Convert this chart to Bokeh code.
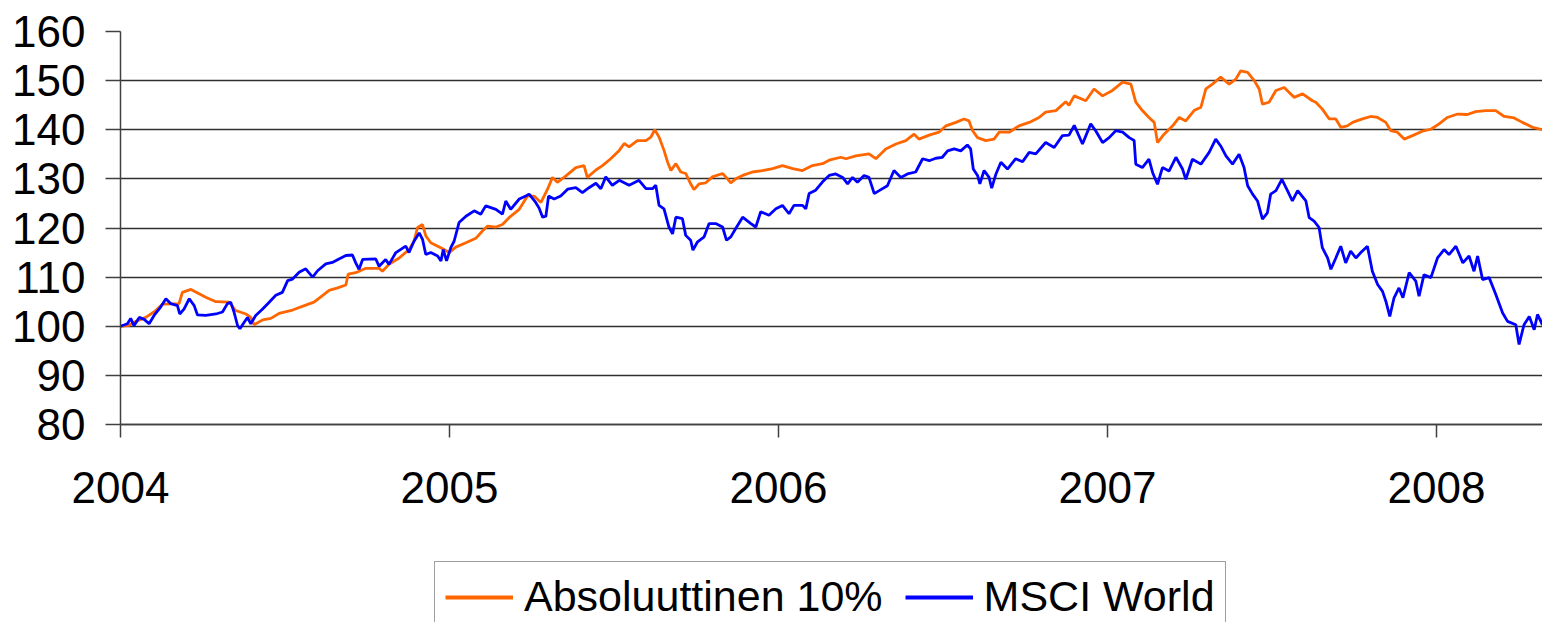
from bokeh.plotting import figure
from bokeh.models import Range1d, FixedTicker, Legend, LegendItem
from bokeh.embed import file_html
from bokeh.resources import INLINE

# ---------------- data ----------------
abs_label = "Absoluuttinen 10%"
msci_label = "MSCI World"

abs_years = [
    2004.000, 2004.026, 2004.047, 2004.077, 2004.107, 2004.128, 2004.178, 2004.188, 2004.214, 2004.239,
    2004.259, 2004.290, 2004.330, 2004.350, 2004.381, 2004.396, 2004.406, 2004.432, 2004.457, 2004.482,
    2004.523, 2004.563, 2004.588, 2004.609, 2004.634, 2004.660, 2004.685, 2004.692,
    2004.715, 2004.746, 2004.786, 2004.796, 2004.816, 2004.847, 2004.877, 2004.892, 2004.903, 2004.918,
    2004.928, 2004.943, 2004.964, 2004.984, 2004.999, 2005.019, 2005.050, 2005.080, 2005.100, 2005.116,
    2005.141, 2005.161, 2005.181, 2005.212, 2005.237, 2005.257, 2005.278, 2005.298, 2005.313, 2005.328,
    2005.354, 2005.384, 2005.409, 2005.419, 2005.445,
    2005.465, 2005.490, 2005.516, 2005.531, 2005.546, 2005.571, 2005.597, 2005.612, 2005.624, 2005.637,
    2005.652, 2005.663, 2005.673, 2005.688, 2005.703, 2005.718, 2005.733, 2005.743, 2005.759, 2005.779,
    2005.799, 2005.830, 2005.845, 2005.855, 2005.870, 2005.891, 2005.921, 2005.951, 2005.982, 2006.012,
    2006.043, 2006.073, 2006.103, 2006.134, 2006.154, 2006.189,
    2006.205, 2006.235, 2006.275, 2006.296, 2006.326, 2006.357, 2006.387, 2006.412, 2006.427, 2006.458,
    2006.488, 2006.509, 2006.539, 2006.564, 2006.579, 2006.590, 2006.605, 2006.630, 2006.655, 2006.671,
    2006.701, 2006.731, 2006.762, 2006.792, 2006.812, 2006.843, 2006.873, 2006.883, 2006.899,
    2006.934, 2006.959, 2006.985, 2007.015, 2007.046, 2007.071, 2007.086, 2007.106, 2007.126, 2007.142,
    2007.152, 2007.172, 2007.198, 2007.218, 2007.238, 2007.263, 2007.284, 2007.299, 2007.319, 2007.344,
    2007.370, 2007.390, 2007.405, 2007.426, 2007.446, 2007.461, 2007.471, 2007.491, 2007.512, 2007.537,
    2007.567, 2007.593, 2007.623,
    2007.633, 2007.653, 2007.674, 2007.694, 2007.709, 2007.729, 2007.745, 2007.775, 2007.800, 2007.821,
    2007.846, 2007.861, 2007.881, 2007.902, 2007.927, 2007.957, 2007.983, 2008.008, 2008.033, 2008.064,
    2008.094, 2008.119, 2008.150, 2008.180, 2008.206, 2008.236, 2008.261, 2008.292, 2008.317, 2008.342,
]
abs_values = [
    100.0, 100.2, 101.0, 101.8, 103.2, 104.5, 104.6, 106.9, 107.5, 106.6,
    105.9, 105.0, 104.9, 103.2, 102.5, 101.8, 100.3, 101.3, 101.6, 102.6,
    103.3, 104.3, 104.9, 106.0, 107.3, 107.8, 108.4, 110.6,
    110.9, 111.8, 111.8, 111.2, 112.6, 113.9, 115.6, 117.3, 120.1, 120.7,
    118.4, 117.0, 116.3, 115.6, 115.0, 116.1, 117.0, 117.9, 119.4, 120.4,
    120.2, 120.7, 122.1, 123.8, 126.5, 126.5, 125.2, 127.9, 130.3, 129.3,
    130.6, 132.3, 132.7, 130.3, 131.8,
    132.7, 134.1, 135.8, 137.2, 136.5, 137.8, 137.8, 138.5, 140.0, 138.5,
    135.8, 133.4, 131.7, 133.1, 131.4, 131.1, 129.0, 127.8, 129.0, 129.2,
    130.4, 131.1, 130.0, 129.2, 130.0, 130.7, 131.4, 131.7, 132.1, 132.7,
    132.1, 131.7, 132.7, 133.1, 133.8, 134.4,
    134.1, 134.7, 135.1, 134.1, 136.1, 137.1, 137.8, 139.1, 138.1, 138.9,
    139.5, 140.8, 141.5, 142.2, 141.8, 139.8, 138.4, 137.8, 138.1, 139.5,
    139.5, 140.8, 141.5, 142.5, 143.6, 143.9, 145.7, 145.0, 146.9,
    145.9, 148.3, 146.9, 148.0, 149.7, 149.3, 145.6, 143.9, 142.5, 141.5,
    137.4, 139.1, 140.8, 142.5, 141.8, 143.9, 144.6, 148.3, 149.3, 150.7,
    149.3, 150.3, 152.0, 151.7, 150.0, 148.3, 145.2, 145.6, 148.0, 148.6,
    146.6, 147.3, 145.9,
    145.6, 144.2, 142.2, 142.2, 140.5, 140.8, 141.5, 142.2, 142.7, 142.5,
    141.5, 139.8, 139.5, 138.1, 138.8, 139.7, 140.1, 141.2, 142.5, 143.2,
    143.1, 143.7, 143.9, 143.9, 142.7, 142.4, 141.5, 140.5, 140.1, 139.7,
]

msci_years = [
    2004.000, 2004.021, 2004.031, 2004.041, 2004.057, 2004.072, 2004.087, 2004.102, 2004.122, 2004.138,
    2004.153, 2004.173, 2004.180, 2004.193, 2004.209, 2004.224, 2004.234, 2004.259, 2004.290, 2004.310,
    2004.325, 2004.335, 2004.345, 2004.356, 2004.363, 2004.376, 2004.386, 2004.396, 2004.411, 2004.432,
    2004.452, 2004.472, 2004.492, 2004.508, 2004.523, 2004.543, 2004.563, 2004.584, 2004.599, 2004.624,
    2004.644, 2004.664, 2004.685, 2004.705,
    2004.715, 2004.725, 2004.736, 2004.776, 2004.786, 2004.806, 2004.816, 2004.837, 2004.867, 2004.877,
    2004.892, 2004.908, 2004.918, 2004.928, 2004.943, 2004.964, 2004.974, 2004.981, 2004.991, 2005.004,
    2005.014, 2005.029, 2005.050, 2005.075, 2005.095, 2005.110, 2005.141, 2005.161, 2005.171, 2005.186,
    2005.212, 2005.232, 2005.242, 2005.262, 2005.272, 2005.283, 2005.293, 2005.301, 2005.318, 2005.338,
    2005.359, 2005.384, 2005.404, 2005.424, 2005.445,
    2005.460, 2005.475, 2005.495, 2005.516, 2005.546, 2005.576, 2005.597, 2005.617, 2005.627, 2005.637,
    2005.652, 2005.667, 2005.678, 2005.688, 2005.708, 2005.718, 2005.733, 2005.740, 2005.754, 2005.774,
    2005.789, 2005.809, 2005.830, 2005.842, 2005.855, 2005.870, 2005.891, 2005.916, 2005.931, 2005.946,
    2005.971, 2005.992, 2006.012, 2006.032, 2006.047, 2006.073, 2006.083, 2006.093, 2006.113, 2006.134,
    2006.154,
    2006.174, 2006.195, 2006.210, 2006.225, 2006.240, 2006.260, 2006.275, 2006.291, 2006.306, 2006.331,
    2006.351, 2006.372, 2006.392, 2006.417, 2006.438, 2006.458, 2006.478, 2006.498, 2006.514, 2006.534,
    2006.554, 2006.574, 2006.584, 2006.592, 2006.605, 2006.612, 2006.625, 2006.640, 2006.648, 2006.661,
    2006.676, 2006.696, 2006.721, 2006.742, 2006.762, 2006.782, 2006.812, 2006.838, 2006.863, 2006.883,
    2006.899,
    2006.924, 2006.949, 2006.964, 2006.985, 2007.005, 2007.025, 2007.046, 2007.066, 2007.081, 2007.086,
    2007.106, 2007.126, 2007.137, 2007.152, 2007.167, 2007.187, 2007.208, 2007.228, 2007.238, 2007.258,
    2007.284, 2007.309, 2007.329, 2007.344, 2007.360, 2007.380, 2007.400, 2007.415, 2007.426, 2007.441,
    2007.456, 2007.471, 2007.486, 2007.496, 2007.512, 2007.530, 2007.547, 2007.562, 2007.578, 2007.603,
    2007.613, 2007.628,
    2007.643, 2007.653, 2007.669, 2007.679, 2007.694, 2007.709, 2007.724, 2007.739, 2007.755, 2007.770,
    2007.790, 2007.805, 2007.821, 2007.836, 2007.846, 2007.858, 2007.871, 2007.886, 2007.898, 2007.917,
    2007.937, 2007.947, 2007.962, 2007.983, 2008.003, 2008.023, 2008.038, 2008.059, 2008.080, 2008.099,
    2008.114, 2008.125, 2008.140, 2008.160, 2008.180, 2008.201, 2008.216, 2008.241, 2008.251, 2008.266,
    2008.282, 2008.297, 2008.307, 2008.322, 2008.332, 2008.347,
]
msci_values = [
    100.0, 100.5, 101.6, 100.1, 101.8, 101.4, 100.5, 102.2, 103.9, 105.6,
    104.6, 104.2, 102.5, 103.5, 105.6, 104.2, 102.3, 102.2, 102.5, 102.9,
    104.6, 104.9, 102.9, 100.1, 99.5, 100.8, 101.8, 100.5, 102.2, 103.5,
    104.9, 106.3, 106.9, 109.3, 109.6, 111.0, 111.7, 110.0, 111.3, 112.7,
    113.0, 113.7, 114.4, 114.5,
    112.9, 111.6, 113.6, 113.7, 112.2, 113.6, 112.6, 115.0, 116.3, 115.0,
    117.3, 119.0, 117.7, 114.6, 115.0, 114.3, 113.3, 115.6, 113.3, 116.0,
    117.3, 121.1, 122.4, 123.5, 122.8, 124.5, 123.8, 122.8, 125.5, 123.8,
    125.9, 126.5, 126.9, 125.2, 124.1, 122.2, 122.4, 126.5, 125.9, 126.5,
    127.9, 128.2, 127.2, 128.2, 129.1,
    128.0, 130.4, 128.7, 129.7, 128.7, 129.7, 128.0, 128.0, 128.7, 124.6,
    123.9, 120.2, 118.8, 122.2, 121.9, 118.5, 117.5, 115.5, 117.2, 118.2,
    120.9, 120.9, 120.2, 117.5, 118.2, 119.9, 122.2, 120.9, 120.2, 123.3,
    122.6, 123.9, 124.6, 122.9, 124.6, 124.6, 123.9, 127.0, 127.7, 129.4,
    130.7,
    131.0, 130.3, 129.0, 130.3, 129.3, 130.7, 130.3, 127.0, 127.6, 128.6,
    131.7, 130.3, 131.0, 131.4, 134.1, 133.7, 134.2, 134.4, 135.7, 136.1,
    135.7, 136.9, 136.1, 132.0, 130.7, 129.0, 131.7, 130.3, 128.1, 131.0,
    133.4, 132.0, 134.1, 133.5, 135.4, 135.1, 137.4, 136.4, 138.8, 138.9,
    140.9,
    137.1, 141.2, 139.8, 137.4, 138.4, 139.8, 139.5, 138.4, 137.8, 133.0,
    132.3, 134.0, 131.3, 128.9, 132.3, 131.6, 134.4, 132.0, 129.9, 134.0,
    133.0, 135.4, 138.1, 136.7, 134.7, 133.0, 135.0, 132.3, 128.6, 126.9,
    125.5, 121.8, 123.1, 126.9, 127.6, 129.9, 127.6, 125.5, 127.6, 125.5,
    122.1, 121.4,
    120.1, 116.0, 113.9, 111.6, 113.9, 116.3, 112.9, 115.3, 113.9, 115.0,
    116.3, 111.2, 108.5, 107.1, 105.1, 102.0, 105.8, 107.8, 105.8, 110.9,
    109.2, 106.1, 110.5, 109.9, 113.9, 115.6, 114.6, 116.3, 112.9, 114.3,
    111.2, 114.3, 109.5, 109.9, 106.5, 102.7, 101.0, 100.3, 96.3, 100.3,
    102.0, 99.3, 102.4, 100.3, 105.8, 106.5,
]

x_ticks = [2004, 2005, 2006, 2007, 2008]
x_tick_labels = ["2004", "2005", "2006", "2007", "2008"]
y_ticks = [80, 90, 100, 110, 120, 130, 140, 150, 160]
y_grid_values = [80, 90, 100, 110, 120, 130, 140, 150]
y_axis_min, y_axis_max = 80, 160

# ---------------- figure ----------------
FONT = "Liberation Sans"
W, H = 1542, 622
AXIS_X_PX, AXIS_TOP_PX = 120, 31                    # where the 2004/160 corner sits
PX_PER_UNIT = 393 / (y_axis_max - y_axis_min)      # 80..160 spans 393 px
PX_PER_YEAR = 329
x0 = x_ticks[0]
x_start = x0 - AXIS_X_PX / PX_PER_YEAR
x_end = x0 + (W - AXIS_X_PX) / PX_PER_YEAR
y_end = y_axis_max + AXIS_TOP_PX / PX_PER_UNIT
y_start = y_end - H / PX_PER_UNIT

# the frame covers the whole canvas; axes are pinned to 2004 and 80
p = figure(
    width=W, height=H,
    output_backend="svg", toolbar_location=None,
    x_range=Range1d(x_start, x_end), y_range=Range1d(y_start, y_end),
    min_border_left=0, min_border_right=0, min_border_top=0, min_border_bottom=0,
    background_fill_color="white", border_fill_color="white",
)
p.outline_line_color = None

r_abs = p.line(abs_years, abs_values, line_color="#FF6600", line_width=2.8)
r_msci = p.line(msci_years, msci_values, line_color="#0000FF", line_width=2.8)

# legend samples: single-point renderers (draw nothing in the plot), thicker strokes
leg_abs = p.line(abs_years[:1], abs_values[:1], line_color="#FF6600", line_width=4)
leg_msci = p.line(msci_years[:1], msci_values[:1], line_color="#0000FF", line_width=4)

# axes
p.xaxis.ticker = FixedTicker(ticks=x_ticks)
p.xaxis.major_label_overrides = {t: l for t, l in zip(x_ticks, x_tick_labels)}
p.xaxis.fixed_location = y_axis_min
p.xaxis.bounds = (x0, x_end)
p.yaxis.ticker = FixedTicker(ticks=y_ticks)
p.yaxis.fixed_location = x0
p.yaxis.bounds = (y_axis_min, y_axis_max)
for ax in (p.xaxis[0], p.yaxis[0]):
    ax.minor_tick_line_color = None
    ax.major_tick_in = 0
    ax.axis_line_color = "#404040"
    ax.axis_line_width = 1.5
    ax.major_tick_line_color = "#404040"
    ax.major_tick_line_width = 1.5
    ax.major_label_text_font = FONT
    ax.major_label_text_font_size = "44px"
    ax.major_label_text_color = "black"
p.yaxis.major_tick_out = 15
p.yaxis.major_label_standoff = 20
p.xaxis.major_tick_out = 13
p.xaxis.major_label_standoff = 34

# grid (horizontal lines only, starting at the y axis)
p.xgrid.visible = False
p.ygrid.ticker = FixedTicker(ticks=y_grid_values)
p.ygrid.grid_line_color = "#303030"
p.ygrid.grid_line_width = 1.5
try:
    p.ygrid.cross_bounds = (x0, x_end)
except Exception:
    p.ygrid.visible = False
    p.segment(x0=[x0] * len(y_grid_values), x1=[x_end] * len(y_grid_values),
              y0=y_grid_values, y1=y_grid_values, line_color="#303030", line_width=1.5,
              level="underlay")

# legend below the x axis
legend = Legend(
    items=[LegendItem(label=abs_label, renderers=[leg_abs]),
           LegendItem(label=msci_label, renderers=[leg_msci])],
    orientation="horizontal",
    location=(434, -10),
    label_text_font=FONT, label_text_font_size="43px", label_text_color="black",
    glyph_width=68, glyph_height=40, label_standoff=11, spacing=22, padding=10,
    border_line_color="#404040", border_line_width=1.5,
    background_fill_color="white", background_fill_alpha=1.0,
)
p.add_layout(legend)

open("out.html", "w").write(file_html(p, INLINE))
